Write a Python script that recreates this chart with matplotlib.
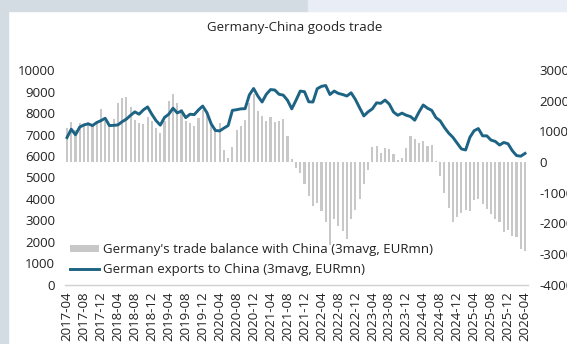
import numpy as np
import matplotlib
matplotlib.use("Agg")
import matplotlib.pyplot as plt
from matplotlib.patches import Rectangle

plt.rcParams['font.family'] = ['Open Sans', 'DejaVu Sans']

# Monthly series, 2017-04 .. 2026-04
months = [f"{y}-{m:02d}" for y in range(2017, 2027) for m in range(1, 13)]
months = months[months.index("2017-04"):months.index("2026-04") + 1]

# German exports to China (3m avg, EUR mn) - left axis
exports = [
    6860, 7250, 6990, 7350, 7450, 7500, 7420, 7560, 7650, 7760,
    7420, 7430, 7450, 7600, 7720, 7900, 8060, 7950, 8150, 8290,
    7950, 7650, 7440, 7800, 7950, 8230, 8010, 8100, 7790, 7950,
    7930, 8150, 8330, 8020, 7500, 7190, 7170, 7300, 7420, 8130,
    8160, 8200, 8210, 8850, 9150, 8800, 8520, 8880, 9100, 9080,
    8880, 8840, 8600, 8200, 8600, 9030, 9000, 8530, 8520, 9140,
    9250, 9290, 8870, 9030, 8920, 8870, 8800, 8950, 8640, 8250,
    7870, 8060, 8200, 8480, 8460, 8610, 8420, 8050, 7900, 8000,
    7900, 7840, 7670, 8050, 8380, 8230, 8130, 7790, 7640, 7330,
    7070, 6870, 6600, 6330, 6280, 6870, 7180, 7280, 6940, 6940,
    6740, 6680, 6510, 6630, 6570, 6250, 6020, 5990, 6120,
]

# Germany's trade balance with China (3m avg, EUR mn) - right axis
balance = [
    1120, 1310, 1050, 1290, 1250, 1300, 1200, 1350, 1750, 1350,
    1250, 1400, 1930, 2090, 2120, 1790, 1390, 1290, 1230, 1470,
    1340, 1120, 960, 1350, 1990, 2220, 1930, 1750, 1340, 1270,
    1190, 1450, 1700, 1500, 1200, 1100, 1290, 390, 130, 480,
    1040, 1180, 1390, 1930, 2220, 1660, 1500, 1340, 1470, 1320,
    1340, 1420, 850, 100, -200, -350, -700, -1100, -1450, -1350,
    -1600, -1950, -2700, -1850, -2100, -2250, -2500, -1850, -1550, -1200,
    -700, -250, 480, 540, 310, 460, 420, 260, 60, 120,
    460, 850, 740, 620, 680, 530, 570, 20, -440, -1000,
    -1500, -1950, -1800, -1650, -1580, -1600, -1250, -1200, -1360, -1520,
    -1700, -1860, -1950, -2300, -2220, -2400, -2450, -2830, -2920,
]

left_ticks = [0, 1000, 2000, 3000, 4000, 5000, 6000, 7000, 8000, 9000, 10000]
right_ticks = [-4000, -3000, -2000, -1000, 0, 1000, 2000, 3000]

title = "Germany-China goods trade"
label_bal = "Germany's trade balance with China (3mavg, EURmn)"
label_exp = "German exports to China (3mavg, EURmn)"

LINE_C = "#1d6384"
BAR_C = "#c8c8c8"
TXT_C = "#222222"
FS = 9.5

W, H = 567, 344
fig = plt.figure(figsize=(W / 100, H / 100), dpi=100)
fig.patch.set_facecolor("white")

# page framing around the chart panel
def px_rect(x0, y0, x1, y1, color):
    fig.patches.append(Rectangle((x0 / W, 1 - y1 / H), (x1 - x0) / W, (y1 - y0) / H,
                                 transform=fig.transFigure, color=color, zorder=-10))

px_rect(0, 0, 308, 11, "#d3dbe3")
px_rect(308, 0, W, 11, "#e9eef6")
px_rect(0, 0, 8, H, "#d3dbe3")

ax_l, ax_r, ax_t, ax_b = 65, 528, 70.3, 284.5
ax = fig.add_axes([ax_l / W, 1 - ax_b / H, (ax_r - ax_l) / W, (ax_b - ax_t) / H])
ax.set_zorder(2)
ax.patch.set_visible(False)
ax2 = ax.twinx()
ax2.set_zorder(1)

x = np.arange(len(months))
step = 4.24
xlim = (-(67 - ax_l) / step, len(months) - 1 + (ax_r - 525) / step)

ax2.bar(x, balance, width=0.5, color=BAR_C, linewidth=0, label=label_bal)
ax.plot(x, exports, color=LINE_C, lw=2.1, solid_joinstyle="round", label=label_exp)

ax.set_xlim(*xlim)
ax2.set_xlim(*xlim)
ax.set_ylim(0, 10000)
ax2.set_ylim(-4000, 3000)

ax.set_yticks(left_ticks)
ax.set_yticklabels([str(v) for v in left_ticks])
ax2.set_yticks(right_ticks)
ax2.set_yticklabels([str(v) for v in right_ticks])

ax.set_xticks(x[::4])
ax.set_xticklabels(months[::4], rotation=90, va="top", ha="center")

for a in (ax, ax2):
    for s in a.spines.values():
        s.set_visible(False)
    a.tick_params(length=0, labelsize=FS, colors=TXT_C)
ax.spines["bottom"].set_visible(True)
ax.spines["bottom"].set_color("#d0d0d0")
ax.spines["bottom"].set_linewidth(1.0)
ax.tick_params(axis="y", pad=7)
ax.tick_params(axis="x", pad=5)
ax2.tick_params(axis="y", pad=8)

fig.text(295 / W, 1 - 28 / H, title, ha="center", va="center", fontsize=FS, color=TXT_C)

h1, l1 = ax2.get_legend_handles_labels()
h2, l2 = ax.get_legend_handles_labels()
leg = ax.legend(h1 + h2, l1 + l2, loc="upper left",
                bbox_to_anchor=(70 / W, 1 - 243 / H), bbox_transform=fig.transFigure,
                frameon=False, fontsize=FS, handlelength=2.2, handleheight=0.4,
                handletextpad=0.3, labelspacing=0.5, borderpad=0, borderaxespad=0)
for t in leg.get_texts():
    t.set_color(TXT_C)

fig.savefig("out.png", dpi=100, facecolor=fig.get_facecolor())
